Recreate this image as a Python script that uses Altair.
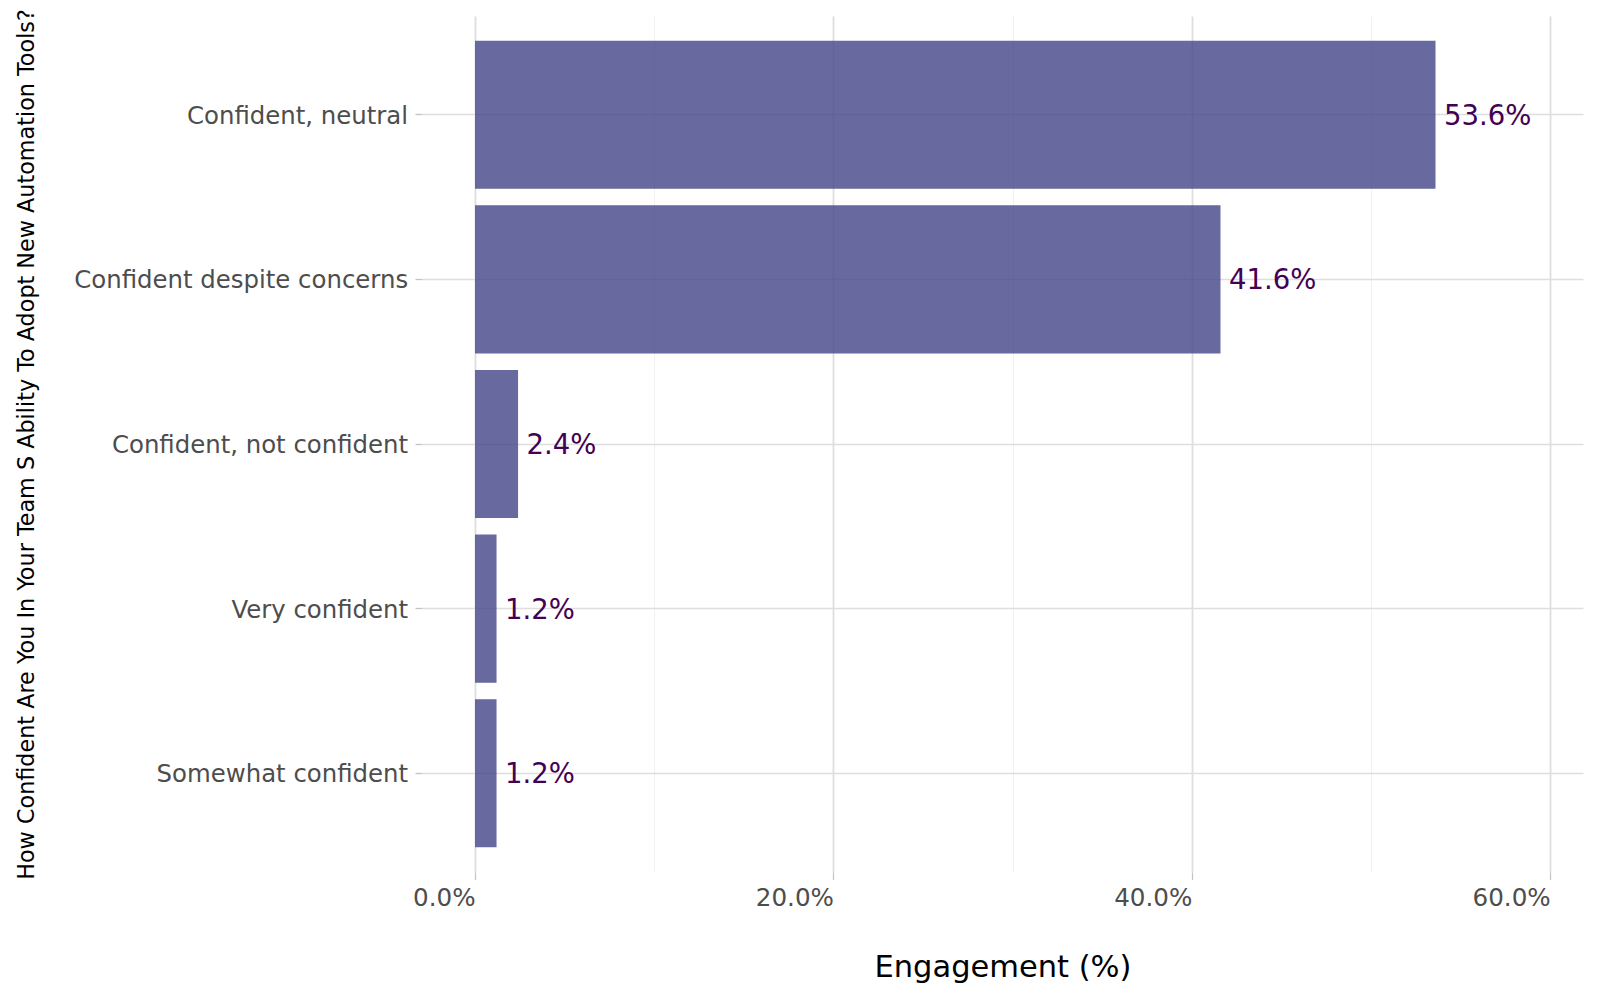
import altair as alt
import pandas as pd

categories = [
    "Confident, neutral",
    "Confident despite concerns",
    "Confident, not confident",
    "Very confident",
    "Somewhat confident",
]
values = [53.6, 41.6, 2.4, 1.2, 1.2]
tick_values = [0, 10, 20, 30, 40, 50, 60]

df = pd.DataFrame({
    "response": categories,
    "pct": values,
    "label": [f"{v:.1f}%" for v in values],
})

minor_test = "datum.value % 20 != 0"

x_enc = alt.X(
    "pct:Q",
    scale=alt.Scale(domain=[-2.96, 61.83], nice=False, zero=False),
    axis=alt.Axis(
        title="Engagement (%)",
        values=tick_values,
        labelExpr="datum.value % 20 == 0 ? format(datum.value, '.1f') + '%' : ''",
        labelFontSize=24.6,
        labelColor="#4d4d4d",
        labelAlign="right",
        labelBaseline="top",
        labelPadding=7,
        labelFlush=False,
        labelOverlap=False,
        tickSize=7.5,
        tickWidth=1.2,
        tickColor={"condition": {"test": minor_test, "value": "transparent"}, "value": "#c4c4c4"},
        domain=False,
        grid=True,
        gridColor={"condition": {"test": minor_test, "value": "#f1f1f1"}, "value": "#dedede"},
        gridWidth={"condition": {"test": minor_test, "value": 1}, "value": 1.8},
        titleFontSize=30.5,
        titleFontWeight="normal",
        titleColor="#000000",
        titleX=580.5,
        titleY=104.7,
        titleAlign="center",
        titleBaseline="alphabetic",
    ),
)

y_enc = alt.Y(
    "response:N",
    sort=categories,
    scale=alt.Scale(paddingInner=0.1, paddingOuter=0.15),
    axis=alt.Axis(
        title="How Confident Are You In Your Team S Ability To Adopt New Automation Tools?",
        labelFontSize=24.4,
        labelColor="#4d4d4d",
        labelPadding=7.4,
        labelLimit=700,
        labelOffset=2,
        tickSize=7,
        tickWidth=1.3,
        tickColor="#c4c4c4",
        domain=False,
        grid=True,
        gridColor="#dedede",
        gridWidth=1.3,
        bandPosition=0.5,
        titleFontSize=22.3,
        titleFontWeight="normal",
        titleColor="#000000",
        titleX=-388.7,
        titleY=428,
        titleAngle=270,
        titleAlign="center",
        titleBaseline="alphabetic",
    ),
)

bars = alt.Chart(df).mark_bar(color="#414487", opacity=0.8).encode(x=x_enc, y=y_enc)

text = alt.Chart(df).mark_text(
    align="left", baseline="middle", dx=8.5, dy=2, fontSize=27.5, color="#440154"
).encode(
    x=alt.X("pct:Q"),
    y=alt.Y("response:N", sort=categories),
    text="label:N",
)

chart = alt.layer(bars, text).properties(
    width=1161,
    height=856,
    autosize=alt.AutoSizeParams(type="none"),
    padding={"left": 414, "top": 8, "right": 9, "bottom": 120},
).configure(font="DejaVu Sans").configure_view(strokeWidth=0)

chart.save("out.html", embed_options={"renderer": "svg", "actions": False})
